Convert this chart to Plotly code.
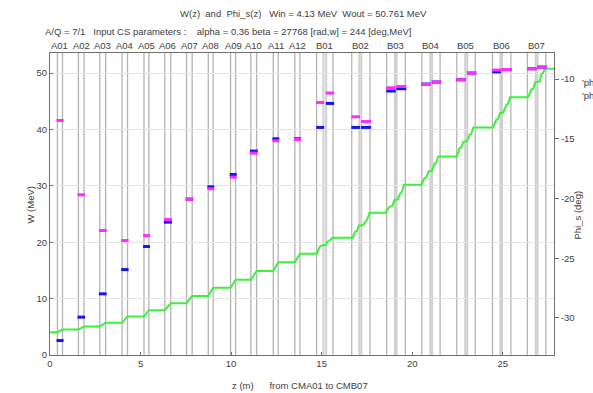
import plotly.graph_objects as go

# ---------------- data ----------------
A_names = ["A01","A02","A03","A04","A05","A06","A07","A08","A09","A10","A11","A12"]
A_start = [0.41,1.57,2.75,3.98,5.19,6.34,7.54,8.74,9.97,11.09,12.33,13.52]
A_end   = [0.69,1.88,3.07,4.28,5.46,6.67,7.85,9.01,10.25,11.41,12.60,13.80]

B_names = ["B01","B02","B03","B04","B05","B06","B07"]
B_start = [14.72,16.66,18.59,20.53,22.46,24.43,26.36]
B_mid1  = [15.10,17.08,19.05,21.00,22.93,24.87,26.82]
B_mid2  = [15.25,17.19,19.14,21.10,23.04,24.96,26.92]
B_end   = [15.63,17.67,19.62,21.54,23.48,25.45,27.38]

# W level (MeV) at entrance and after each A cavity
W_in = 4.04
W_after_A = [4.51,5.04,5.70,6.82,7.95,9.20,10.45,11.93,13.35,14.90,16.44,17.95]

# W(z) vertices through the B cryomodules (staircase)
WB_z = [
    [14.74,14.86,14.95,15.22,15.32,15.45,15.60],
    [16.72,16.85,16.95,17.05,17.30,17.45,17.52,17.65],
    [18.55,18.75,18.90,19.02,19.20,19.35,19.42,19.55],
    [20.52,20.68,20.78,20.90,21.08,21.25,21.32,21.44],
    [22.46,22.62,22.70,22.82,23.02,23.18,23.25,23.38],
    [24.46,24.65,24.73,24.85,25.03,25.20,25.28,25.40],
    [26.40,26.58,26.68,26.80,27.04,27.15,27.22,27.33],
]
WB_w = [
    [17.95,19.0,19.4,19.5,20.1,20.3,20.8],
    [20.8,21.9,22.0,22.95,23.05,23.95,24.1,25.25],
    [25.25,26.3,26.4,27.5,27.6,28.7,28.8,30.2],
    [30.2,31.4,31.5,32.55,32.65,34.0,34.1,35.2],
    [35.2,36.7,36.8,37.8,37.9,39.1,39.2,40.35],
    [40.35,41.75,41.85,42.9,43.0,44.4,44.5,45.7],
    [45.7,47.1,47.2,48.4,48.5,49.9,50.0,50.761],
]
z_max = 27.83

# Phi_s (deg) per A cavity
A_phi_mag  = [-13.47,-19.69,-22.68,-23.52,-23.10,-21.76,-20.05,-19.19,-18.21,-16.20,-15.17,-15.05]
A_phi_blue = [-31.89,-29.93,-27.98,-25.95,-24.02,-21.98,-20.05,-19.02,-17.99,-16.03,-15.00,-15.00]
# Phi_s (deg) per B cryomodule, first and second half
B_phi_mag1  = [-11.96,-13.16,-10.73,-10.45,-10.06,-9.25,-9.14]
B_phi_blue1 = [-14.05,-14.05,-11.00,-10.42,-10.06,-9.40,-9.14]
B_phi_mag2  = [-11.17,-13.55,-10.62,-10.25,-9.50,-9.20,-9.00]
B_phi_blue2 = [-12.04,-14.05,-10.81,-10.25,-9.50,-9.20,-9.00]

x_ticks = [0,5,10,15,20,25]
y_ticks = [0,10,20,30,40,50]
y2_ticks = [-30,-25,-20,-15,-10]

FONT = "Liberation Sans, Arial, sans-serif"
TXT = "#404040"

# ---------------- build paths ----------------
gz, gw = [0.0], [W_in]
prev = W_in
for s, e, w in zip(A_start, A_end, W_after_A):
    gz += [s, e]
    gw += [prev, w]
    prev = w
for zs, ws in zip(WB_z, WB_w):
    gz += zs
    gw += ws
gz.append(z_max)
gw.append(WB_w[-1][-1])

def seg(x0s, x1s, ys, pad0=0.05, pad1=0.06):
    xs, yy = [], []
    for a, b, y in zip(x0s, x1s, ys):
        xs += [a - pad0, b + pad1, None]
        yy += [y, y, None]
    return xs, yy

bx1, by1 = seg(A_start, A_end, A_phi_blue)
bx2, by2 = seg(B_start, B_mid1, B_phi_blue1, 0.02, 0.04)
bx3, by3 = seg(B_mid2, B_end, B_phi_blue2, 0.02, 0.06)
mx1, my1 = seg(A_start, A_end, A_phi_mag)
mx2, my2 = seg(B_start, B_mid1, B_phi_mag1, 0.02, 0.04)
mx3, my3 = seg(B_mid2, B_end, B_phi_mag2, 0.02, 0.06)

fig = go.Figure()
fig.add_trace(go.Scatter(x=bx1 + bx2 + bx3, y=by1 + by2 + by3, yaxis="y2", mode="lines",
                         line=dict(color="#1414f0", width=3), showlegend=False, hoverinfo="skip"))
fig.add_trace(go.Scatter(x=mx1 + mx2 + mx3, y=my1 + my2 + my3, yaxis="y2", mode="lines",
                         line=dict(color="#ff2cff", width=3), showlegend=False, hoverinfo="skip"))
fig.add_trace(go.Scatter(x=gz, y=gw, mode="lines", line=dict(color="#3cf03c", width=2),
                         showlegend=False, hoverinfo="skip"))

# cavity boundary lines
shapes = []
for xs in (A_start + A_end + B_start + B_end):
    shapes.append(dict(type="line", xref="x", yref="paper", x0=xs, x1=xs, y0=0, y1=1,
                       line=dict(color="#b4b4b4", width=1.3), layer="below"))
for xs in (B_mid1 + B_mid2):
    shapes.append(dict(type="line", xref="x", yref="paper", x0=xs, x1=xs, y0=0, y1=1,
                       line=dict(color="#cfcfcf", width=2), layer="below"))

ann = []
for n, s, e in zip(A_names, A_start, A_end):
    ann.append(dict(x=(s + e) / 2, y=1.0, xref="x", yref="paper", text=n, showarrow=False,
                    yanchor="bottom", yshift=0, font=dict(family=FONT, size=9.5, color=TXT)))
for n, s, e in zip(B_names, B_start, B_end):
    ann.append(dict(x=(s + e) / 2, y=1.0, xref="x", yref="paper", text=n, showarrow=False,
                    yanchor="bottom", yshift=0, font=dict(family=FONT, size=9.5, color=TXT)))

ann += [
    dict(x=303, y=13, xref="paper", yref="paper", text="W(z)  and  Phi_s(z)   Win = 4.13 MeV  Wout = 50.761 MeV",
         showarrow=False, font=dict(family=FONT, size=9.5, color=TXT)),
    dict(x=43, y=32, xref="paper", yref="paper", xanchor="left",
         text="A/Q = 7/1   Input CS parameters :    alpha = 0.36 beta = 27768 [rad,w] = 244 [deg,MeV]",
         showarrow=False, font=dict(family=FONT, size=9.5, color=TXT)),
    dict(x=300, y=385, xref="paper", yref="paper", text="z (m)      from CMA01 to CMB07",
         showarrow=False, font=dict(family=FONT, size=9.5, color=TXT)),
    dict(x=22, y=205, xref="paper", yref="paper", text="W (MeV)", textangle=-90,
         showarrow=False, font=dict(family=FONT, size=9.5, color=TXT)),
    dict(x=584, y=215, xref="paper", yref="paper", text="Phi_s (deg)", textangle=-90,
         showarrow=False, font=dict(family=FONT, size=9.5, color=TXT)),
    dict(x=580, y=82, xref="paper", yref="paper", xanchor="left", text="'ph",
         showarrow=False, font=dict(family=FONT, size=9.5, color=TXT)),
    dict(x=580, y=96, xref="paper", yref="paper", xanchor="left", text="'ph",
         showarrow=False, font=dict(family=FONT, size=9.5, color=TXT)),
]
# convert pixel-positioned annotations to paper coords
W, H = 593, 393
L, R, T, B = 50, 39, 53, 38
pw, ph = W - L - R, H - T - B
for a in ann:
    if a["xref"] == "paper" and a["yref"] == "paper":
        a["x"] = (a["x"] - L) / pw
        a["y"] = (H - B - a["y"]) / ph
        a.setdefault("yanchor", "middle")

axis_common = dict(showline=True, linecolor="#707070", linewidth=1, zeroline=False,
                   tickfont=dict(family=FONT, size=9.5, color=TXT))

fig.update_layout(
    width=W, height=H, margin=dict(l=L, r=R, t=T, b=B),
    paper_bgcolor="white", plot_bgcolor="white",
    xaxis=dict(range=[0, z_max], tickvals=x_ticks, showgrid=False, mirror=True,
               ticks="inside", ticklen=3, tickcolor="#707070", **axis_common),
    yaxis=dict(range=[0, 53.56], tickvals=y_ticks, showgrid=True, gridcolor="#e4e4e4",
               mirror=True, ticks="inside", ticklen=3, tickcolor="#707070", **axis_common),
    yaxis2=dict(range=[-33.1, -7.82], tickvals=y2_ticks, overlaying="y", side="right",
                showgrid=False, ticks="outside", ticklen=4, tickcolor="#707070",
                ticktext=[str(v) for v in y2_ticks], **axis_common),
    shapes=shapes, annotations=ann, showlegend=False,
)

fig.write_html("out.html", config={"displayModeBar": False},
               post_script="document.body.style.margin='0';document.body.style.padding='0';")
